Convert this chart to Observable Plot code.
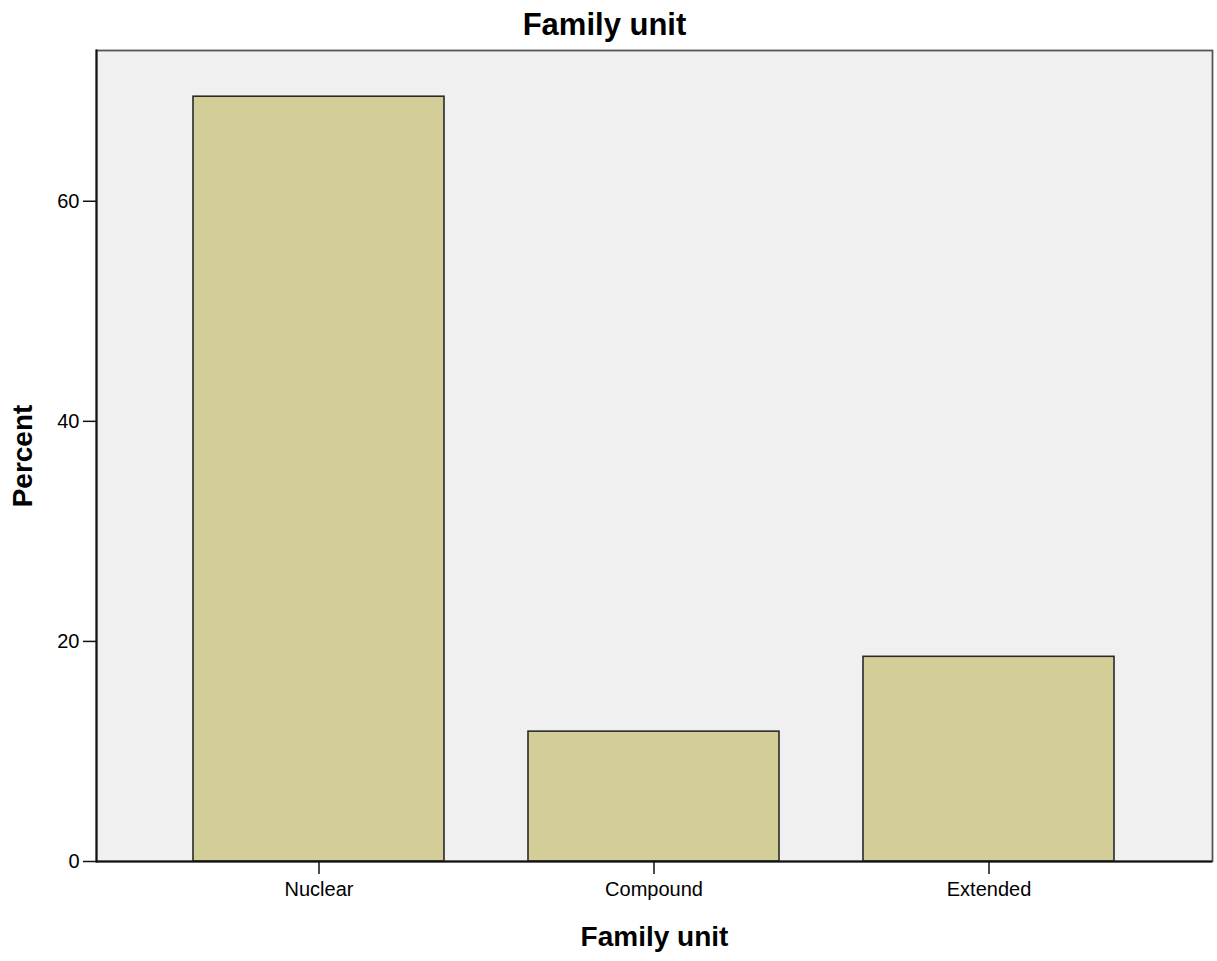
<!DOCTYPE html>
<html>
<head>
<meta charset="utf-8">
<script src="https://cdn.jsdelivr.net/npm/d3@7"></script>
<script src="https://cdn.jsdelivr.net/npm/@observablehq/plot@0.6"></script>
<style>
  html, body { margin: 0; padding: 0; background: #fff; }
  #wrap { width: 1217px; font-family: "Liberation Sans", Arial, sans-serif; }
  #title { height: 45px; box-sizing: border-box; padding-top: 5px; line-height: 40px; font-size: 31px; font-weight: bold; text-align: center; color: #000; padding-right: 8px; }
  svg { display: block; }
</style>
</head>
<body>
<div id="wrap">
  <div id="title">Family unit</div>
  <div id="chart"></div>
</div>
<script>
const categories = ["Nuclear", "Compound", "Extended"];
const percents = [69.5, 11.8, 18.6];
const yTicks = [0, 20, 40, 60];
const xLabel = "Family unit";
const yLabel = "Percent";

const data = categories.map((c, i) => ({category: c, percent: percents[i]}));

const font = "Liberation Sans, Arial, sans-serif";

const chart = Plot.plot({
  width: 1217,
  height: 916,
  marginTop: 5,
  marginBottom: 100,
  marginLeft: 96,
  marginRight: 5,
  style: {fontFamily: font, fontSize: "20px", color: "#000", background: "#fff", overflow: "visible"},
  x: {domain: categories, paddingInner: 0.25, paddingOuter: 0.29, label: null},
  y: {domain: [0, 73.7], label: null},
  marks: [
    Plot.frame({fill: "#f0f0f0", stroke: null}),
    Plot.barY(data, {x: "category", y: "percent", fill: "#d3ce98", stroke: "#2a2a2a", strokeWidth: 1.6}),
    Plot.frame({stroke: "#555", strokeWidth: 1.8}),
    Plot.ruleY([0], {stroke: "#111", strokeWidth: 2}),
    Plot.frame({anchor: "left", stroke: "#111", strokeWidth: 2}),
    Plot.axisY({ticks: yTicks, tickSize: 13, tickPadding: 4, tickFormat: d => String(d), label: null, fontSize: 20, stroke: "#111", strokeWidth: 1.5}),
    Plot.axisX({tickSize: 13, tickPadding: 7, label: null, fontSize: 20, stroke: "#111", strokeWidth: 1.5}),
    Plot.text([yLabel], {frameAnchor: "left", dx: -73, rotate: -90, text: d => d, fontSize: 28, fontWeight: "bold", fill: "#000", textAnchor: "middle", lineAnchor: "middle"}),
    Plot.text([xLabel], {frameAnchor: "bottom", dy: 76, text: d => d, fontSize: 28, fontWeight: "bold", fill: "#000", textAnchor: "middle", lineAnchor: "middle"})
  ]
});
document.getElementById("chart").appendChild(chart);
</script>
</body>
</html>
